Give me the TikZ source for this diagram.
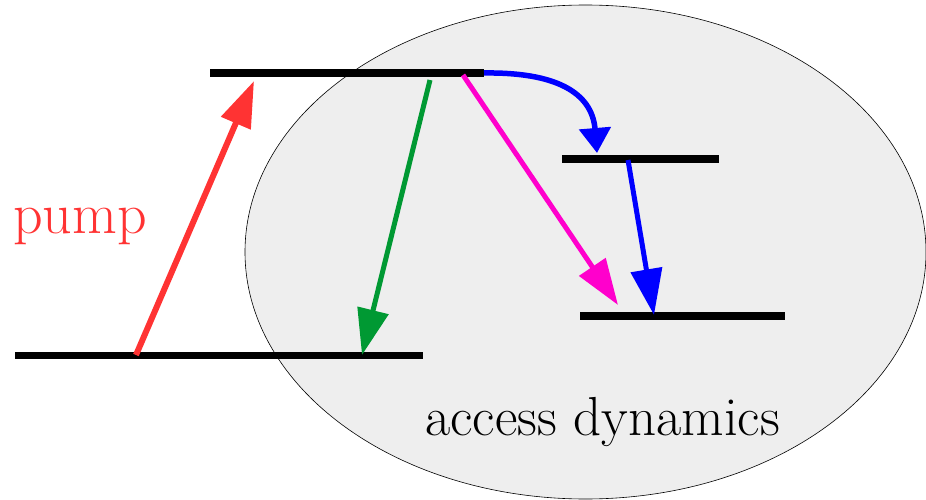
\documentclass[tikz,border=0pt]{standalone}
\usetikzlibrary{arrows.meta}
\definecolor{pumpred}{HTML}{FF3333}
\definecolor{decgreen}{HTML}{009933}
\definecolor{decmag}{HTML}{FF00CC}
\definecolor{decblue}{HTML}{0000FF}
\definecolor{bggray}{HTML}{EEEEEE}
\begin{document}
\begin{tikzpicture}[x=1pt,y=-1pt,
  level/.style={line width=7.5pt, black},
  bigarrow/.style={line width=5pt, -{Triangle[length=46pt,width=31pt]}},
  smallhead/.style={line width=5.5pt, -{Triangle[length=25pt,width=31pt]}},
  lbl/.style={inner sep=0pt, anchor=base west}]
\useasboundingbox (0,0) rectangle (926,500);
% ellipse
\draw[fill=bggray, line width=0.6pt] (585.5,252) ellipse [x radius=340.5, y radius=247];
% levels
\coordinate (topL) at (210,73);  \coordinate (topR) at (484,73);
\coordinate (gndL) at (15,355.5); \coordinate (gndR) at (423,355.5);
\coordinate (midL) at (562,159); \coordinate (midR) at (719,159);
\coordinate (lowL) at (580,316); \coordinate (lowR) at (785,316);
\draw[level] (topL) -- (topR);
\draw[level] (gndL) -- (gndR);
\draw[level] (midL) -- (midR);
\draw[level] (lowL) -- (lowR);
% arrow ends
\coordinate (redS) at (136,355); \coordinate (redE) at (254,81);
\coordinate (grnS) at (430,80);  \coordinate (grnE) at (362,355);
\coordinate (magS) at (463,75);  \coordinate (magE) at (618,305);
\coordinate (bcE) at (597,153);
\coordinate (bsS) at (628,160);  \coordinate (bsE) at (654,315);
\draw[bigarrow, pumpred, line width=6pt] (redS) -- (redE);
\draw[bigarrow, decgreen] (grnS) -- (grnE);
\draw[bigarrow, decmag] (magS) -- (magE);
\draw[smallhead, decblue] (topR) .. controls (555,72) and (592,92) .. (bcE);
\draw[bigarrow, decblue] (bsS) -- (bsE);
% labels
\node[lbl, text=pumpred, font=\fontsize{58}{58}\selectfont] (pump) at (13,233) {pump};
\node[lbl, font=\fontsize{55}{55}\selectfont] (acc) at (425,435) {access dynamics};
\end{tikzpicture}
\end{document}
